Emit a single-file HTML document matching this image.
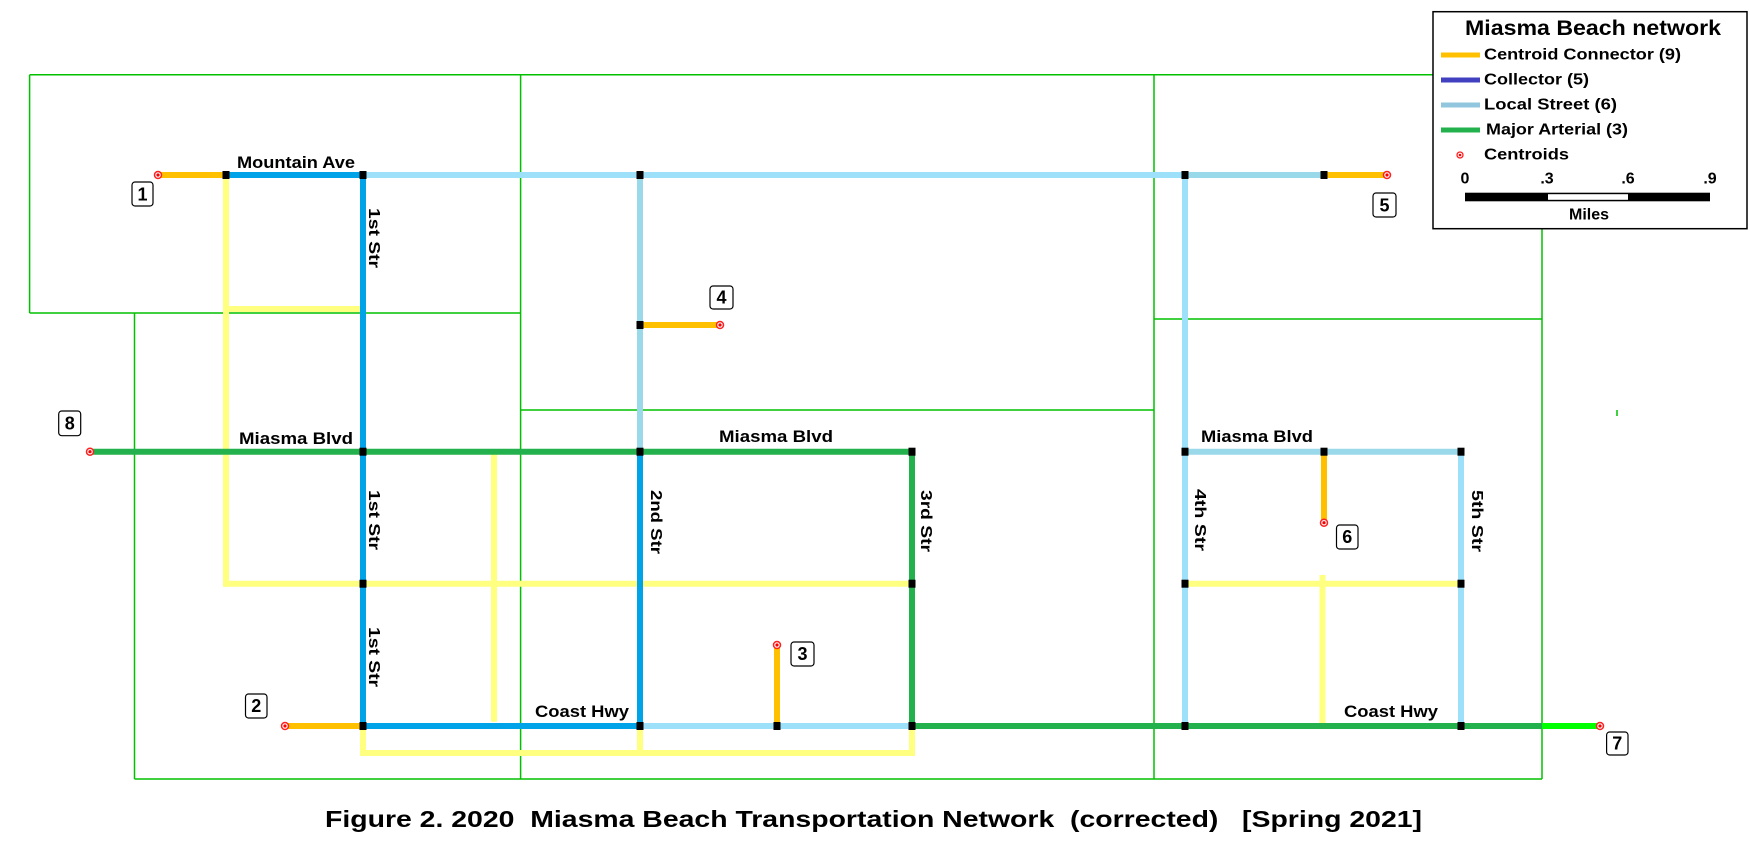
<!DOCTYPE html>
<html><head><meta charset="utf-8"><style>
html,body{margin:0;padding:0;background:#fff;overflow:hidden;}
svg{display:block;}
text{font-family:"Liberation Sans",Arial,sans-serif;font-weight:bold;fill:#000;}
</style></head><body>
<svg width="1750" height="850" viewBox="0 0 1750 850" xmlns="http://www.w3.org/2000/svg">
<g stroke="#00c000" stroke-width="1.5" fill="none">
<line x1="29.6" y1="74.7" x2="1433" y2="74.7"/>
<line x1="29.6" y1="74.7" x2="29.6" y2="313"/>
<line x1="29.6" y1="313" x2="520.6" y2="313"/>
<line x1="520.6" y1="74.7" x2="520.6" y2="779"/>
<line x1="1154" y1="74.7" x2="1154" y2="779"/>
<line x1="134.5" y1="313" x2="134.5" y2="779"/>
<line x1="134.5" y1="779" x2="1542" y2="779"/>
<line x1="520.6" y1="410" x2="1154" y2="410"/>
<line x1="1154" y1="319" x2="1542" y2="319"/>
<line x1="1542" y1="228" x2="1542" y2="779"/>
<line x1="1617" y1="410" x2="1617" y2="416"/>
</g>
<g stroke="#ffff80" stroke-width="6" fill="none">
<line x1="226" y1="175" x2="226" y2="586.7"/>
<line x1="226" y1="309" x2="363" y2="309"/>
<line x1="223" y1="583.7" x2="912" y2="583.7"/>
<line x1="494" y1="451.7" x2="494" y2="721.7"/>
<polyline points="363,726 363,753 912,753 912,726"/>
<line x1="640" y1="726" x2="640" y2="753"/>
<line x1="1185" y1="583.7" x2="1461" y2="583.7"/>
<line x1="1322.5" y1="575" x2="1322.5" y2="726"/>
</g>
<g stroke-width="6" fill="none">
<line x1="363" y1="175" x2="1185" y2="175" stroke="#9de0fa"/>
<line x1="1185" y1="175" x2="1324" y2="175" stroke="#99d9ea"/>
<line x1="1324" y1="175" x2="1387" y2="175" stroke="#ffc000"/>
<line x1="158" y1="175" x2="226" y2="175" stroke="#ffc000"/>
<line x1="226" y1="175" x2="363" y2="175" stroke="#00a2e8"/>
<line x1="363" y1="175" x2="363" y2="726" stroke="#00a2e8"/>
<line x1="640" y1="175" x2="640" y2="451.7" stroke="#99d9ea"/>
<line x1="640" y1="451.7" x2="640" y2="726" stroke="#00a2e8"/>
<line x1="640" y1="325" x2="720" y2="325" stroke="#ffc000"/>
<line x1="90" y1="451.7" x2="912" y2="451.7" stroke="#22b14c"/>
<line x1="912" y1="451.7" x2="912" y2="726" stroke="#22b14c"/>
<line x1="285" y1="726" x2="363" y2="726" stroke="#ffc000"/>
<line x1="363" y1="726" x2="640" y2="726" stroke="#00a2e8"/>
<line x1="640" y1="726" x2="912" y2="726" stroke="#9de0fa"/>
<line x1="912" y1="726" x2="1542" y2="726" stroke="#22b14c"/>
<line x1="1542" y1="726" x2="1600" y2="726" stroke="#00ff00"/>
<line x1="777" y1="645" x2="777" y2="726" stroke="#ffc000"/>
<line x1="1185" y1="451.7" x2="1461" y2="451.7" stroke="#99d9ea"/>
<line x1="1185" y1="175" x2="1185" y2="726" stroke="#9de0fa"/>
<line x1="1461" y1="451.7" x2="1461" y2="726" stroke="#9de0fa"/>
<line x1="1324" y1="451.7" x2="1324" y2="522.7" stroke="#ffc000"/>
</g>
<g fill="#000">
<rect x="222.5" y="171" width="7" height="8"/><rect x="359.5" y="171" width="7" height="8"/>
<rect x="636.5" y="171" width="7" height="8"/><rect x="1181.5" y="171" width="7" height="8"/>
<rect x="1320.5" y="171" width="7" height="8"/><rect x="636.5" y="321" width="7" height="8"/>
<rect x="359.5" y="447.7" width="7" height="8"/><rect x="636.5" y="447.7" width="7" height="8"/>
<rect x="908.5" y="447.7" width="7" height="8"/><rect x="1181.5" y="447.7" width="7" height="8"/>
<rect x="1320.5" y="447.7" width="7" height="8"/><rect x="1457.5" y="447.7" width="7" height="8"/>
<rect x="359.5" y="579.7" width="7" height="8"/><rect x="908.5" y="579.7" width="7" height="8"/>
<rect x="1181.5" y="579.7" width="7" height="8"/><rect x="1457.5" y="579.7" width="7" height="8"/>
<rect x="359.5" y="722" width="7" height="8"/><rect x="636.5" y="722" width="7" height="8"/>
<rect x="773.5" y="722" width="7" height="8"/><rect x="908.5" y="722" width="7" height="8"/>
<rect x="1181.5" y="722" width="7" height="8"/><rect x="1457.5" y="722" width="7" height="8"/>
</g>
<g fill="#fff" stroke="#ff2020" stroke-width="1.5">
<circle cx="158" cy="175" r="3.5"/><circle cx="720" cy="325" r="3.5"/><circle cx="1387" cy="175" r="3.5"/>
<circle cx="90" cy="451.7" r="3.5"/><circle cx="285" cy="726" r="3.5"/><circle cx="777" cy="645" r="3.5"/>
<circle cx="1324" cy="522.7" r="3.5"/><circle cx="1600" cy="726" r="3.5"/>
</g>
<g fill="#ff0000">
<circle cx="158" cy="175" r="1.6"/><circle cx="720" cy="325" r="1.6"/><circle cx="1387" cy="175" r="1.6"/>
<circle cx="90" cy="451.7" r="1.6"/><circle cx="285" cy="726" r="1.6"/><circle cx="777" cy="645" r="1.6"/>
<circle cx="1324" cy="522.7" r="1.6"/><circle cx="1600" cy="726" r="1.6"/>
</g>
<g fill="#fff" stroke="#000" stroke-width="1.2">
<rect x="132" y="182" width="21" height="24" rx="3"/>
<rect x="710" y="286" width="23" height="23" rx="3"/>
<rect x="1373" y="193" width="23" height="24" rx="3"/>
<rect x="58.7" y="411" width="22" height="24.7" rx="3"/>
<rect x="245.5" y="694" width="21.5" height="24" rx="3"/>
<rect x="791" y="642" width="23" height="24" rx="3"/>
<rect x="1336.5" y="525" width="21.5" height="24" rx="3"/>
<rect x="1606.6" y="732" width="21.4" height="23" rx="3"/>
</g>
<g font-size="18" text-anchor="middle" dominant-baseline="central">
<text x="142.5" y="194.5">1</text><text x="721.5" y="297.5">4</text><text x="1384.5" y="205.5">5</text>
<text x="69.7" y="423.5">8</text><text x="256.2" y="706">2</text><text x="802.5" y="654">3</text>
<text x="1347.2" y="537">6</text><text x="1617.3" y="743.5">7</text>
</g>
<g font-size="17" text-anchor="middle">
<text x="296" y="168" textLength="118" lengthAdjust="spacingAndGlyphs">Mountain Ave</text>
<text x="296" y="444" textLength="114" lengthAdjust="spacingAndGlyphs">Miasma Blvd</text>
<text x="776" y="442" textLength="114" lengthAdjust="spacingAndGlyphs">Miasma Blvd</text>
<text x="1257" y="442" textLength="112" lengthAdjust="spacingAndGlyphs">Miasma Blvd</text>
<text x="582" y="717" textLength="94" lengthAdjust="spacingAndGlyphs">Coast Hwy</text>
<text x="1391" y="717" textLength="94" lengthAdjust="spacingAndGlyphs">Coast Hwy</text>
</g>
<g font-size="16" text-anchor="middle">
<text transform="translate(369,238) rotate(90)" textLength="60" lengthAdjust="spacingAndGlyphs">1st Str</text>
<text transform="translate(369,520) rotate(90)" textLength="60" lengthAdjust="spacingAndGlyphs">1st Str</text>
<text transform="translate(369,657) rotate(90)" textLength="60" lengthAdjust="spacingAndGlyphs">1st Str</text>
<text transform="translate(651,522) rotate(90)" textLength="64" lengthAdjust="spacingAndGlyphs">2nd Str</text>
<text transform="translate(921,521) rotate(90)" textLength="62" lengthAdjust="spacingAndGlyphs">3rd Str</text>
<text transform="translate(1195,520) rotate(90)" textLength="62" lengthAdjust="spacingAndGlyphs">4th Str</text>
<text transform="translate(1472,521) rotate(90)" textLength="62" lengthAdjust="spacingAndGlyphs">5th Str</text>
</g>
<rect x="1433" y="11.7" width="314" height="217" fill="#fff" stroke="#000" stroke-width="1.5"/>
<text x="1593" y="35" font-size="21" text-anchor="middle" textLength="256" lengthAdjust="spacingAndGlyphs">Miasma Beach network</text>
<g stroke-width="5">
<line x1="1441" y1="55" x2="1480" y2="55" stroke="#ffc000"/>
<line x1="1441" y1="80" x2="1480" y2="80" stroke="#4040c0"/>
<line x1="1441" y1="105" x2="1480" y2="105" stroke="#92c5de"/>
<line x1="1441" y1="130" x2="1480" y2="130" stroke="#22b14c"/>
</g>
<circle cx="1460" cy="155" r="3" fill="#fff" stroke="#ff2020" stroke-width="1.3"/><circle cx="1460" cy="155" r="1.3" fill="#f00"/>
<g font-size="16" dominant-baseline="central">
<text x="1484" y="55" textLength="197" lengthAdjust="spacingAndGlyphs">Centroid Connector (9)</text>
<text x="1484" y="80" textLength="105" lengthAdjust="spacingAndGlyphs">Collector (5)</text>
<text x="1484" y="105" textLength="133" lengthAdjust="spacingAndGlyphs">Local Street (6)</text>
<text x="1486" y="130" textLength="142" lengthAdjust="spacingAndGlyphs">Major Arterial (3)</text>
<text x="1484" y="155" textLength="85" lengthAdjust="spacingAndGlyphs">Centroids</text>
</g>
<g font-size="16" text-anchor="middle" dominant-baseline="central">
<text x="1465" y="179">0</text><text x="1547" y="179">.3</text><text x="1628" y="179">.6</text><text x="1710" y="179">.9</text>
<text x="1589" y="215">Miles</text>
</g>
<rect x="1465" y="192.7" width="245" height="8.6" fill="#000"/>
<rect x="1548" y="194.2" width="80" height="5.6" fill="#fff"/>
<text x="325" y="827" font-size="23" textLength="1097" lengthAdjust="spacingAndGlyphs" xml:space="preserve" style="white-space:pre">Figure 2. 2020  Miasma Beach Transportation Network  (corrected)   [Spring 2021]</text>
</svg>
</body></html>
